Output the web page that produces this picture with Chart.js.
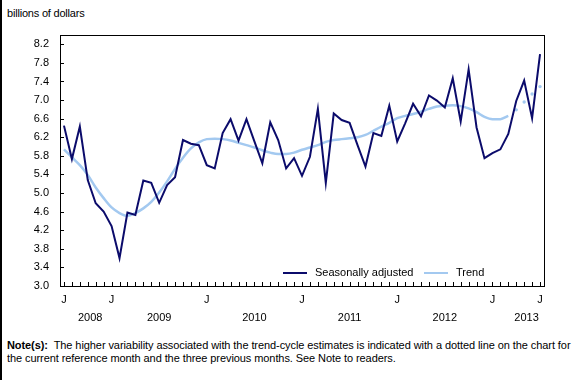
<!DOCTYPE html>
<html><head><meta charset="utf-8">
<script src="https://cdn.jsdelivr.net/npm/chart.js@4"></script>
<style>
html,body{margin:0;padding:0;background:#fff;}
body{width:588px;height:380px;position:relative;overflow:hidden;font-family:"Liberation Sans",Arial,sans-serif;color:#000;}
#edge{position:absolute;left:0;top:0;width:2px;height:380px;background:#000;}
#unit{position:absolute;left:7px;top:7px;font-size:11px;letter-spacing:-0.2px;}
#note{position:absolute;left:7px;top:339px;width:576px;font-size:11px;line-height:13px;letter-spacing:-0.08px;}
#wrap{position:absolute;left:0;top:0;width:588px;height:330px;}
</style></head><body>
<div id="edge"></div>
<div id="unit">billions of dollars</div>
<div id="wrap"><canvas id="c" width="588" height="330"></canvas></div>
<div id="note"><b>Note(s):</b>&nbsp; The higher variability associated with the trend-cycle estimates is indicated with a dotted line on the chart for the current reference month and the three previous months. See Note to readers.</div>
<script>
// Months: July 2008 to July 2013
const months = [
 'Jul 2008','Aug 2008','Sep 2008','Oct 2008','Nov 2008','Dec 2008',
 'Jan 2009','Feb 2009','Mar 2009','Apr 2009','May 2009','Jun 2009','Jul 2009','Aug 2009','Sep 2009','Oct 2009','Nov 2009','Dec 2009',
 'Jan 2010','Feb 2010','Mar 2010','Apr 2010','May 2010','Jun 2010','Jul 2010','Aug 2010','Sep 2010','Oct 2010','Nov 2010','Dec 2010',
 'Jan 2011','Feb 2011','Mar 2011','Apr 2011','May 2011','Jun 2011','Jul 2011','Aug 2011','Sep 2011','Oct 2011','Nov 2011','Dec 2011',
 'Jan 2012','Feb 2012','Mar 2012','Apr 2012','May 2012','Jun 2012','Jul 2012','Aug 2012','Sep 2012','Oct 2012','Nov 2012','Dec 2012',
 'Jan 2013','Feb 2013','Mar 2013','Apr 2013','May 2013','Jun 2013','Jul 2013'
];
const tickLabels = months.map((m,i)=> (i===0 || i===months.length-1 || m.startsWith('Jan')) ? 'J' : '');
const yearLabels = ['2008','2009','2010','2011','2012','2013'];
const yearCenters = [3.3, 12, 24, 36, 48, 58.3];

const seasonallyAdjusted = [
 6.45,5.73,6.43,5.28,4.78,4.60,4.29,3.60,4.58,4.53,5.27,5.22,4.79,5.17,5.34,6.14,6.06,6.03,
 5.60,5.53,6.29,6.59,6.13,6.59,6.11,5.64,6.52,6.14,5.53,5.75,
 5.37,5.78,6.81,5.22,6.71,6.57,6.51,6.03,5.57,6.29,6.23,6.88,
 6.11,6.50,6.92,6.65,7.10,6.99,6.84,7.47,6.54,7.66,6.41,5.75,
 5.86,5.94,6.27,6.98,7.42,6.61,7.99
];
const trend = [
 5.94,5.77,5.60,5.39,5.12,4.89,4.69,4.57,4.51,4.57,4.67,4.81,5.01,5.25,5.52,5.76,5.96,6.09,
 6.16,6.17,6.16,6.13,6.08,6.03,5.98,5.92,5.87,5.84,5.84,5.87,
 5.93,5.98,6.03,6.10,6.14,6.16,6.18,6.20,6.25,6.34,6.43,6.51,
 6.61,6.66,6.70,6.75,6.81,6.86,6.88,6.89,6.87,6.82,6.74,6.64,
 6.59,6.59,6.66,6.79,6.96,7.13,7.29
];
const lastSolidTrend = 56; // last four months shown as dots
const yTickValues = [3.0,3.4,3.8,4.2,4.6,5.0,5.4,5.8,6.2,6.6,7.0,7.4,7.8,8.2];
const yMin = 3.0, yMax = 8.4;

const darkBlue = '#0b0b6b';
const lightBlue = '#a3c9f0';
const font = '"Liberation Sans", Arial, sans-serif';

const decor = {
  id: 'decor',
  afterDraw(chart) {
    const ctx = chart.ctx, a = chart.chartArea;
    const xs = chart.scales.x, ys = chart.scales.y;
    ctx.save();
    ctx.strokeStyle = '#000'; ctx.lineWidth = 1;
    ctx.strokeRect(Math.round(a.left)+0.5, Math.round(a.top)+0.5, Math.round(a.right-a.left), Math.round(a.bottom-a.top));
    ctx.beginPath();
    for (let i = 0; i < months.length; i++) {
      const x = Math.round(xs.getPixelForValue(i)) + 0.5;
      ctx.moveTo(x, Math.round(a.bottom)); ctx.lineTo(x, Math.round(a.bottom) - 4);
    }
    yTickValues.forEach(v => {
      const y = Math.round(ys.getPixelForValue(v)) + 0.5;
      ctx.moveTo(Math.round(a.left), y); ctx.lineTo(Math.round(a.left) + 4, y);
    });
    ctx.stroke();
    ctx.fillStyle = '#000';
    ctx.font = '11px ' + font;
    ctx.textAlign = 'center'; ctx.textBaseline = 'middle';
    yearLabels.forEach((t, k) => {
      ctx.fillText(t, xs.getPixelForValue(yearCenters[k]), 318);
    });
    const ds = chart.data.datasets;
    const ly = ys.getPixelForValue(3.3) + 1;
    const items = [{ds: ds[0], x: 283}, {ds: ds[1], x: 424}];
    ctx.textAlign = 'left';
    items.forEach(it => {
      ctx.strokeStyle = it.ds.borderColor; ctx.lineWidth = 2;
      ctx.beginPath(); ctx.moveTo(it.x, Math.round(ly)); ctx.lineTo(it.x + 24, Math.round(ly)); ctx.stroke();
      ctx.fillStyle = '#000';
      ctx.fillText(it.ds.label, it.x + 32, ly);
    });
    ctx.restore();
  }
};

new Chart(document.getElementById('c'), {
  type: 'line',
  data: {
    labels: months,
    datasets: [
      { label: 'Seasonally adjusted', data: seasonallyAdjusted, borderColor: darkBlue, backgroundColor: darkBlue,
        borderWidth: 2, pointRadius: 0, tension: 0, fill: false },
      { label: 'Trend', data: trend.map((v,i)=> i <= lastSolidTrend ? v : null), borderColor: lightBlue, backgroundColor: lightBlue,
        borderWidth: 2.5, pointRadius: 0, tension: 0.4, cubicInterpolationMode: 'monotone', fill: false, spanGaps: false },
      { label: 'Trend (dotted)', data: trend.map((v,i)=> i > lastSolidTrend ? v : null), borderColor: lightBlue, backgroundColor: lightBlue,
        showLine: false, pointRadius: 1.7, pointBorderWidth: 0, pointBackgroundColor: lightBlue }
    ]
  },
  options: {
    responsive: false, animation: false, maintainAspectRatio: false,
    layout: { padding: { top: 35, right: 44, left: 0, bottom: 0 } },
    plugins: { legend: { display: false }, tooltip: { enabled: false } },
    scales: {
      x: {
        type: 'category', offset: true,
        grid: { display: false, drawTicks: false }, border: { display: false },
        ticks: { autoSkip: false, maxRotation: 0, padding: 7, color: '#000', font: { family: font, size: 11 },
                 callback: (v, i) => tickLabels[i] },
        afterFit: s => { s.height = 44; }
      },
      y: {
        min: yMin, max: yMax,
        grid: { display: false, drawTicks: false }, border: { display: false },
        afterBuildTicks: s => { s.ticks = yTickValues.map(v => ({ value: v })); },
        ticks: { autoSkip: false, padding: 11, color: '#000', font: { family: font, size: 11 },
                 callback: v => Number(v).toFixed(1) },
        afterFit: s => { s.width = 60; }
      }
    }
  },
  plugins: [decor]
});
</script>
</body></html>
